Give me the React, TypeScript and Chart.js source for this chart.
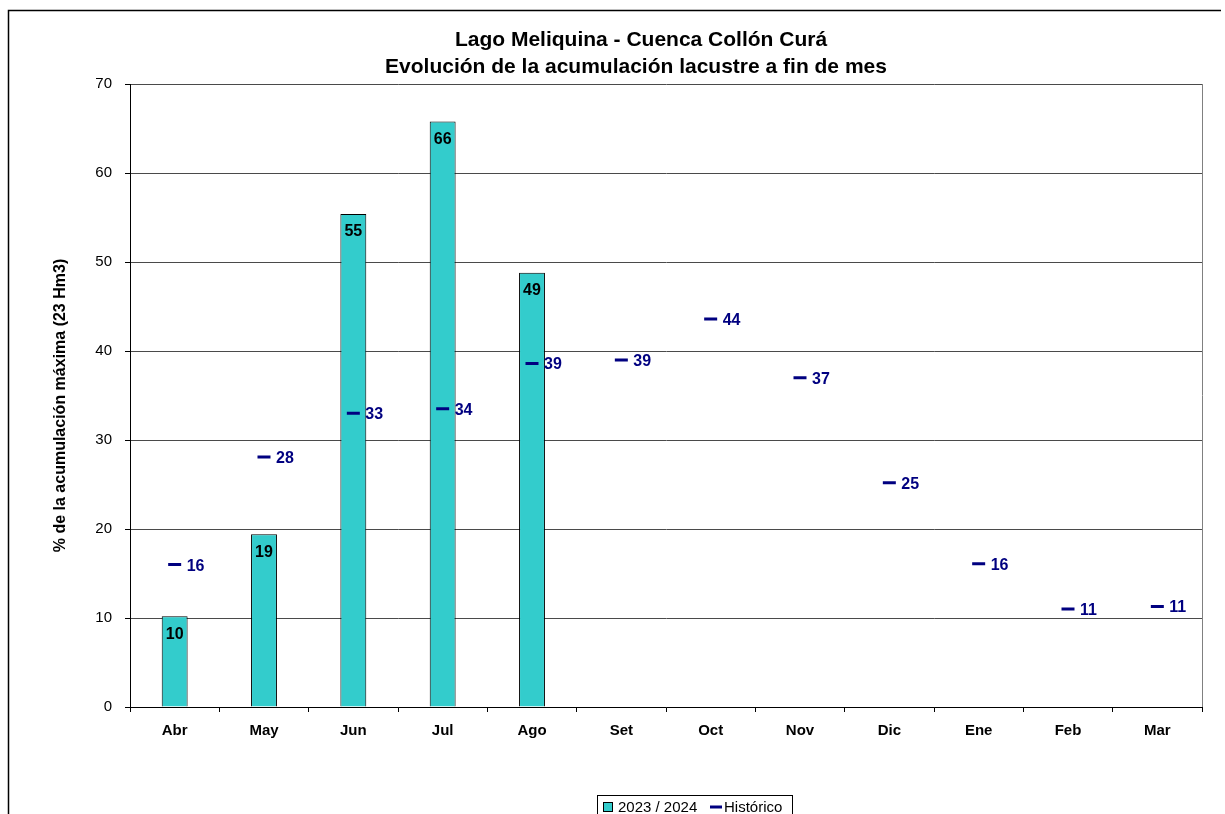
import React, { useEffect, useRef } from "react";
import { Chart, registerables } from "chart.js";

Chart.register(...registerables);

const months = ["Abr", "May", "Jun", "Jul", "Ago", "Set", "Oct", "Nov", "Dic", "Ene", "Feb", "Mar"];
const current = [10.2, 19.4, 55.4, 65.8, 48.8, null, null, null, null, null, null, null];
const historico = [16.0, 28.1, 33.0, 33.5, 38.6, 39.0, 43.6, 37.0, 25.2, 16.1, 11.0, 11.3];
const yTicks = [0, 10, 20, 30, 40, 50, 60, 70];
const titleLines = ["Lago Meliquina - Cuenca Collón Curá", "Evolución de la acumulación lacustre a fin de mes"];
const yTitle = "% de la acumulación máxima (23 Hm3)";
const legendLabels = ["2023 / 2024", "Histórico"];

const FONT = "Arial, 'Liberation Sans', sans-serif";
const CYAN = "#33CCCC";
const NAVY = "#000080";

const decorPlugin = {
  id: "decor",
  afterDatasetsDraw(chart: any) {
    const ctx = chart.ctx;
    ctx.save();
    const barMeta = chart.getDatasetMeta(0);
    barMeta.data.forEach((el: any, i: number) => {
      const v = current[i];
      if (v == null) return;
      ctx.font = `bold 16px ${FONT}`;
      ctx.fillStyle = "#000";
      ctx.textAlign = "center";
      ctx.textBaseline = "middle";
      ctx.fillText(String(Math.round(v)), el.x, el.y + 18);
    });
    const lineMeta = chart.getDatasetMeta(1);
    lineMeta.data.forEach((el: any, i: number) => {
      const v = historico[i];
      ctx.font = `bold 16px ${FONT}`;
      ctx.fillStyle = NAVY;
      ctx.textAlign = "left";
      ctx.textBaseline = "middle";
      ctx.fillText(String(Math.round(v)), el.x + 12, el.y + 1.5);
    });
    ctx.restore();
  },
  afterDraw(chart: any) {
    const ctx = chart.ctx;
    const ca = chart.chartArea;
    ctx.save();
    ctx.strokeStyle = "#808080";
    ctx.lineWidth = 1;
    ctx.beginPath();
    ctx.moveTo(Math.round(ca.right) + 0.5, ca.top);
    ctx.lineTo(Math.round(ca.right) + 0.5, ca.bottom);
    ctx.stroke();
    ctx.strokeStyle = "#000";
    ctx.lineWidth = 1.5;
    ctx.beginPath();
    ctx.moveTo(8.5, 830);
    ctx.lineTo(8.5, 10.5);
    ctx.lineTo(1221, 10.5);
    ctx.stroke();
    ctx.fillStyle = "#000";
    ctx.font = `bold 21px ${FONT}`;
    ctx.textAlign = "center";
    ctx.textBaseline = "middle";
    ctx.fillText(titleLines[0], 641, 40);
    ctx.fillText(titleLines[1], 636, 67);
    ctx.save();
    ctx.translate(61, (ca.top + ca.bottom) / 2 + 10);
    ctx.rotate(-Math.PI / 2);
    ctx.font = `bold 16px ${FONT}`;
    ctx.fillText(yTitle, 0, 0);
    ctx.restore();
    ctx.strokeStyle = "#000";
    ctx.lineWidth = 1;
    ctx.strokeRect(597.5, 795.5, 195, 40);
    ctx.fillStyle = CYAN;
    ctx.fillRect(603.5, 802.5, 9, 9);
    ctx.strokeRect(603.5, 802.5, 9, 9);
    ctx.font = `15px ${FONT}`;
    ctx.fillStyle = "#000";
    ctx.textAlign = "left";
    ctx.textBaseline = "middle";
    ctx.fillText(legendLabels[0], 618, 808);
    ctx.strokeStyle = NAVY;
    ctx.lineWidth = 3;
    ctx.beginPath();
    ctx.moveTo(710, 807);
    ctx.lineTo(722, 807);
    ctx.stroke();
    ctx.fillText(legendLabels[1], 724, 808);
    ctx.restore();
  },
};

export default function App() {
  const ref = useRef<HTMLCanvasElement | null>(null);
  useEffect(() => {
    if (!ref.current) return;
    const chart = new Chart(ref.current, {
      type: "bar",
      data: {
        labels: months,
        datasets: [
          {
            type: "bar",
            label: legendLabels[0],
            data: current as any,
            backgroundColor: CYAN,
            borderColor: "#000",
            borderWidth: 1,
            barPercentage: 0.29,
            categoryPercentage: 1,
            order: 2,
          },
          {
            type: "line",
            label: legendLabels[1],
            data: historico,
            showLine: false,
            pointStyle: "line",
            pointRadius: 6.5,
            pointBorderWidth: 3,
            borderColor: NAVY,
            backgroundColor: NAVY,
            order: 1,
          } as any,
        ],
      },
      options: {
        responsive: false,
        animation: false,
        layout: { padding: { left: 0, top: 84, right: 23, bottom: 0 } },
        plugins: {
          legend: { display: false },
          title: { display: false },
          tooltip: { enabled: false },
        },
        scales: {
          x: {
            offset: true,
            grid: {
              offset: true,
              drawOnChartArea: false,
              drawTicks: true,
              tickLength: 5,
              tickColor: "#000",
            },
            border: { color: "#000", width: 1 },
            ticks: {
              color: "#000",
              font: { family: FONT, size: 15, weight: "bold" },
              padding: 10,
              maxRotation: 0,
            },
            afterFit(scale: any) {
              scale.height = 107;
            },
          },
          y: {
            min: 0,
            max: 70,
            afterBuildTicks(scale: any) {
              scale.ticks = yTicks.map((v) => ({ value: v }));
            },
            grid: {
              color: "#4a4a4a",
              lineWidth: 1,
              tickLength: 5,
              tickColor: "#000",
            },
            border: { color: "#000", width: 1 },
            ticks: {
              color: "#000",
              font: { family: FONT, size: 15 },
              padding: 13,
            },
            afterFit(scale: any) {
              scale.width = 130;
            },
          },
        },
      },
      plugins: [decorPlugin],
    });
    return () => chart.destroy();
  }, []);
  return (
    <div style={{ position: "absolute", left: 0, top: 0, width: 1225, height: 814, background: "#fff" }}>
      <canvas ref={ref} width={1225} height={814} style={{ display: "block" }} />
    </div>
  );
}
